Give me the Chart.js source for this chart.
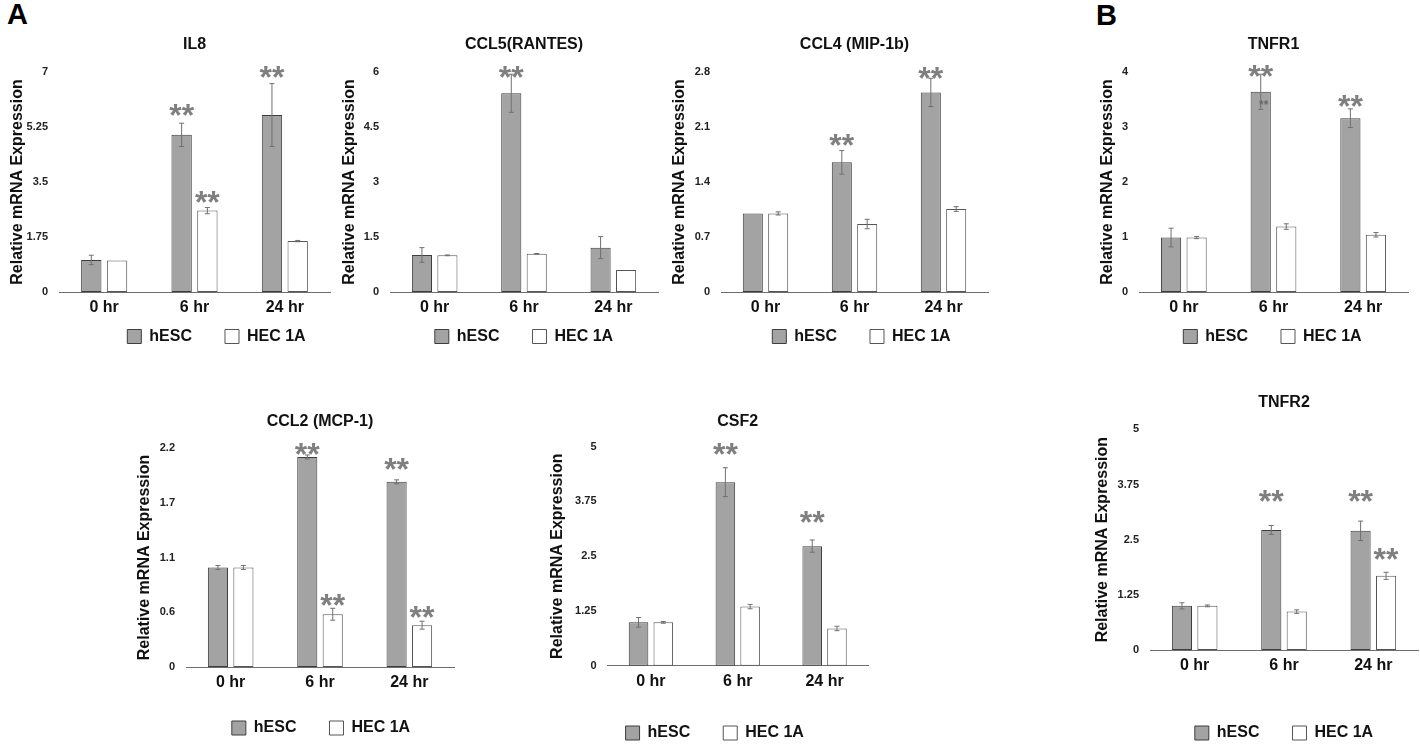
<!DOCTYPE html>
<html>
<head>
<meta charset="utf-8">
<script src="https://cdn.jsdelivr.net/npm/chart.js@4.4.0/dist/chart.umd.min.js"></script>
<style>
  html, body { margin: 0; padding: 0; background: #fff; overflow: hidden; }
  body { width: 1420px; height: 745px; position: relative; font-family: "Liberation Sans", Arial, sans-serif; }
  .letra { position: absolute; font-weight: bold; font-size: 29px; line-height: 29px; color: #000; }
</style>
</head>
<body>
<div class="letra" style="left:7px;top:0px">A</div>
<div class="letra" style="left:1096px;top:1px">B</div>
<script>
// ---------------- dados ----------------
const categorias = ['0 hr', '6 hr', '24 hr'];
const series = ['hESC', 'HEC 1A'];
const tituloY = 'Relative mRNA Expression';

// IL8
const il8Hesc = [1.02, 5.0, 5.63];
const il8HescErr = [0.15, 0.37, 1.0];
const il8Hec = [1.0, 2.59, 1.62];
const il8HecErr = [0, 0.1, 0.02];
const il8HescStars = [null, 5.85, 7.06];
const il8HecStars = [null, 3.09, null];
const il8Ticks = ['0', '1.75', '3.5', '5.25', '7'];

// CCL5(RANTES)
const ccl5Hesc = [1.01, 5.42, 1.21];
const ccl5HescErr = [0.2, 0.52, 0.3];
const ccl5Hec = [1.0, 1.04, 0.6];
const ccl5HecErr = [0.01, 0.01, 0];
const ccl5HescStars = [null, 6.05, null];
const ccl5HecStars = [null, null, null];
const ccl5Ticks = ['0', '1.5', '3', '4.5', '6'];

// CCL4 (MIP-1b)
const ccl4Hesc = [1.0, 1.65, 2.54];
const ccl4HescErr = [0, 0.15, 0.18];
const ccl4Hec = [1.0, 0.865, 1.056];
const ccl4HecErr = [0.02, 0.06, 0.03];
const ccl4HescStars = [null, 1.96, 2.81];
const ccl4HecStars = [null, null, null];
const ccl4Ticks = ['0', '0.7', '1.4', '2.1', '2.8'];

// TNFR1
const tnfr1Hesc = [0.99, 3.64, 3.16];
const tnfr1HescErr = [0.17, 0.32, 0.17];
const tnfr1Hec = [0.99, 1.19, 1.04];
const tnfr1HecErr = [0.02, 0.05, 0.04];
const tnfr1HescStars = [null, 4.05, 3.51];
const tnfr1HecStars = [null, null, null];
const tnfr1SmallStars = [null, 3.45, null];
const tnfr1Ticks = ['0', '1', '2', '3', '4'];

// CCL2 (MCP-1)
const ccl2Hesc = [1.0, 2.11, 1.86];
const ccl2HescErr = [0.02, 0.02, 0.02];
const ccl2Hec = [1.0, 0.53, 0.42];
const ccl2HecErr = [0.02, 0.06, 0.04];
const ccl2HescStars = [null, 2.21, 2.06];
const ccl2HecStars = [null, 0.69, 0.57];
const ccl2Ticks = ['0', '0.6', '1.1', '1.7', '2.2'];

// CSF2
const csf2Hesc = [0.99, 4.19, 2.73];
const csf2HescErr = [0.11, 0.33, 0.14];
const csf2Hec = [0.99, 1.35, 0.85];
const csf2HecErr = [0.02, 0.05, 0.05];
const csf2HescStars = [null, 5.0, 3.44];
const csf2HecStars = [null, null, null];
const csf2Ticks = ['0', '1.25', '2.5', '3.75', '5'];

// TNFR2
const tnfr2Hesc = [1.0, 2.72, 2.70];
const tnfr2HescErr = [0.07, 0.1, 0.22];
const tnfr2Hec = [1.0, 0.87, 1.68];
const tnfr2HecErr = [0.02, 0.04, 0.08];
const tnfr2HescStars = [null, 3.53, 3.53];
const tnfr2HecStars = [null, null, 2.23];
const tnfr2Ticks = ['0', '1.25', '2.5', '3.75', '5'];

// ---------------- painéis ----------------
const paineis = [
  { titulo: 'IL8', hesc: il8Hesc, hescErr: il8HescErr, hec: il8Hec, hecErr: il8HecErr, hescStars: il8HescStars, hecStars: il8HecStars, ticks: il8Ticks },
  { titulo: 'CCL5(RANTES)', hesc: ccl5Hesc, hescErr: ccl5HescErr, hec: ccl5Hec, hecErr: ccl5HecErr, hescStars: ccl5HescStars, hecStars: ccl5HecStars, ticks: ccl5Ticks },
  { titulo: 'CCL4 (MIP-1b)', hesc: ccl4Hesc, hescErr: ccl4HescErr, hec: ccl4Hec, hecErr: ccl4HecErr, hescStars: ccl4HescStars, hecStars: ccl4HecStars, ticks: ccl4Ticks },
  { titulo: 'TNFR1', hesc: tnfr1Hesc, hescErr: tnfr1HescErr, hec: tnfr1Hec, hecErr: tnfr1HecErr, hescStars: tnfr1HescStars, hecStars: tnfr1HecStars, smallStars: tnfr1SmallStars, ticks: tnfr1Ticks },
  { titulo: 'CCL2 (MCP-1)', hesc: ccl2Hesc, hescErr: ccl2HescErr, hec: ccl2Hec, hecErr: ccl2HecErr, hescStars: ccl2HescStars, hecStars: ccl2HecStars, ticks: ccl2Ticks },
  { titulo: 'CSF2', hesc: csf2Hesc, hescErr: csf2HescErr, hec: csf2Hec, hecErr: csf2HecErr, hescStars: csf2HescStars, hecStars: csf2HecStars, ticks: csf2Ticks },
  { titulo: 'TNFR2', hesc: tnfr2Hesc, hescErr: tnfr2HescErr, hec: tnfr2Hec, hecErr: tnfr2HecErr, hescStars: tnfr2HescStars, hecStars: tnfr2HecStars, ticks: tnfr2Ticks }
];

// posição de cada painel na página (área do gráfico, título, legenda)
const layoutPaineis = {
  'IL8':           { x0: 59,    x1: 330,  yTop: 72,    yBot: 292,   titleY: 45,  legendY: 336.5, yTitleX: 18,   legendDx: 22 },
  'CCL5(RANTES)':  { x0: 390,   x1: 658,  yTop: 72,    yBot: 292,   titleY: 45,  legendY: 336.5, yTitleX: 350,  legendDx: 0 },
  'CCL4 (MIP-1b)': { x0: 721,   x1: 988,  yTop: 72,    yBot: 292,   titleY: 45,  legendY: 336.5, yTitleX: 680,  legendDx: 7 },
  'TNFR1':         { x0: 1139,  x1: 1408, yTop: 72,    yBot: 292,   titleY: 45,  legendY: 336.5, yTitleX: 1108, legendDx: -1 },
  'CCL2 (MCP-1)':  { x0: 186,   x1: 454,  yTop: 448,   yBot: 667,   titleY: 422, legendY: 728,   yTitleX: 145,  legendDx: 1 },
  'CSF2':          { x0: 607.5, x1: 868,  yTop: 446.7, yBot: 665.7, titleY: 422, legendY: 733,   yTitleX: 558,  legendDx: -23 },
  'TNFR2':         { x0: 1150,  x1: 1418, yTop: 429.3, yBot: 650,   titleY: 403, legendY: 733,   yTitleX: 1103, legendDx: 0 }
};

const COR_HESC = '#a3a3a3';
const BORDA_HESC = '#3d3d3d';
const COR_HEC = '#ffffff';
const BORDA_HEC = '#555555';
const COR_ESTRELA = '#7f7f7f';
const LEG_PAD = 33;        // espaço entre itens da legenda
const LEG_ALTURA = 16 + LEG_PAD + 10;
const EIXO_X_ALTURA = 30;
const FONTE = '"Liberation Sans", Arial, sans-serif';

Chart.defaults.font.family = FONTE;

/* ------------------------------------------------------------------ */
/*                 PLUGINS: barras de erro, asteriscos                */
/* ------------------------------------------------------------------ */

const pluginErros = {
  id: 'barrasErro',
  afterDatasetsDraw(chart) {
    const ctx = chart.ctx;
    const escalaY = chart.scales.y;
    ctx.save();
    chart.data.datasets.forEach((ds, i) => {
      const meta = chart.getDatasetMeta(i);
      meta.data.forEach((barra, j) => {
        const v = ds.data[j];
        const e = ds.erros ? ds.erros[j] : 0;
        if (e) {
          const yA = escalaY.getPixelForValue(v + e);
          const yB = escalaY.getPixelForValue(v - e);
          ctx.strokeStyle = '#707070';
          ctx.lineWidth = 1;
          ctx.beginPath();
          ctx.moveTo(barra.x, yA); ctx.lineTo(barra.x, yB);
          ctx.moveTo(barra.x - 2.5, yA); ctx.lineTo(barra.x + 2.5, yA);
          ctx.moveTo(barra.x - 2.5, yB); ctx.lineTo(barra.x + 2.5, yB);
          ctx.stroke();
        }
        const s = ds.estrelas ? ds.estrelas[j] : null;
        if (s != null) {
          ctx.fillStyle = COR_ESTRELA;
          ctx.font = 'bold 32px ' + FONTE;
          ctx.textAlign = 'center';
          ctx.textBaseline = 'alphabetic';
          ctx.fillText('**', barra.x, escalaY.getPixelForValue(s) + 18);
        }
        const p = ds.estrelasPequenas ? ds.estrelasPequenas[j] : null;
        if (p != null) {
          ctx.fillStyle = '#6a6a6a';
          ctx.font = 'bold 12px ' + FONTE;
          ctx.textAlign = 'center';
          ctx.textBaseline = 'alphabetic';
          ctx.fillText('**', barra.x + 3, escalaY.getPixelForValue(p) + 7);
        }
      });
    });
    ctx.restore();
  }
};

// move a legenda para o lugar que ela ocupa na figura original
const pluginLegenda = {
  id: 'deslocaLegenda',
  afterLayout(chart, args, opts) {
    const leg = chart.legend;
    if (!leg) return;
    leg.left += opts.dx || 0;
    leg.right += opts.dx || 0;
    leg.top += opts.dy || 0;
    leg.bottom += opts.dy || 0;
  }
};

/* ------------------------------------------------------------------ */
/*                         MONTAGEM DOS GRÁFICOS                      */
/* ------------------------------------------------------------------ */

function montarPainel(p) {
  const lay = layoutPaineis[p.titulo];
  const L = Math.floor(lay.yTitleX - 12);
  const T = Math.floor(lay.titleY - 12);

  const legendaReal = lay.yBot + EIXO_X_ALTURA;          // onde o Chart.js põe a legenda
  const legendaDesejada = lay.legendY - 8 - LEG_PAD;      // onde ela deve ficar
  const fundoLayout = legendaReal + LEG_ALTURA;
  const fundo = Math.max(fundoLayout, legendaDesejada + LEG_ALTURA);

  const W = Math.ceil(lay.x1 + 4 - L);
  const H = Math.ceil(fundo - T);

  const canvas = document.createElement('canvas');
  canvas.width = W;
  canvas.height = H;
  canvas.style.cssText = `position:absolute;left:${L}px;top:${T}px;width:${W}px;height:${H}px`;
  document.body.appendChild(canvas);

  const maxY = Number(p.ticks[p.ticks.length - 1]);

  new Chart(canvas, {
    type: 'bar',
    data: {
      labels: categorias,
      datasets: [{
        label: series[0],
        data: p.hesc,
        erros: p.hescErr,
        estrelas: p.hescStars,
        estrelasPequenas: p.smallStars || null,
        backgroundColor: COR_HESC,
        borderColor: BORDA_HESC,
        borderWidth: 1,
        borderSkipped: false,
        categoryPercentage: 0.57,
        barPercentage: 0.79
      }, {
        label: series[1],
        data: p.hec,
        erros: p.hecErr,
        estrelas: p.hecStars,
        backgroundColor: COR_HEC,
        borderColor: BORDA_HEC,
        borderWidth: 1,
        borderSkipped: false,
        categoryPercentage: 0.57,
        barPercentage: 0.79
      }]
    },
    options: {
      responsive: false,
      animation: false,
      layout: {
        padding: { left: 0, top: 0, right: L + W - lay.x1, bottom: T + H - fundoLayout }
      },
      plugins: {
        title: {
          display: true,
          text: p.titulo,
          fullSize: false,
          color: '#111',
          font: { size: 16, weight: 'bold' },
          padding: { top: lay.titleY - 9.6 - T, bottom: lay.yTop - lay.titleY - 9.6 }
        },
        legend: {
          position: 'bottom',
          fullSize: false,
          labels: {
            boxWidth: 14,
            boxHeight: 14,
            padding: LEG_PAD,
            color: '#111',
            font: { size: 16, weight: 'bold' }
          }
        },
        tooltip: { enabled: false },
        deslocaLegenda: { dx: lay.legendDx, dy: legendaDesejada - legendaReal }
      },
      scales: {
        x: {
          grid: { display: false, drawTicks: false },
          border: { display: true, color: '#6e6e6e', width: 1 },
          ticks: { color: '#111', font: { size: 16, weight: 'bold' }, padding: 6, maxRotation: 0, autoSkip: false },
          afterFit: s => { s.height = EIXO_X_ALTURA; }
        },
        y: {
          min: 0,
          max: maxY,
          grid: { display: false, drawTicks: false },
          border: { display: false },
          ticks: {
            stepSize: maxY / 4,
            padding: 11,
            color: '#222',
            font: { size: 11, weight: 'bold' },
            callback: (v, i) => p.ticks[i]
          },
          title: {
            display: true,
            text: tituloY,
            color: '#111',
            font: { size: 16, weight: 'bold' },
            padding: { top: lay.yTitleX - 9.6 - L, bottom: 0 }
          },
          afterFit: s => { s.width = lay.x0 - L; }
        }
      }
    },
    plugins: [pluginErros, pluginLegenda]
  });
}

paineis.forEach(montarPainel);
</script>
</body>
</html>
